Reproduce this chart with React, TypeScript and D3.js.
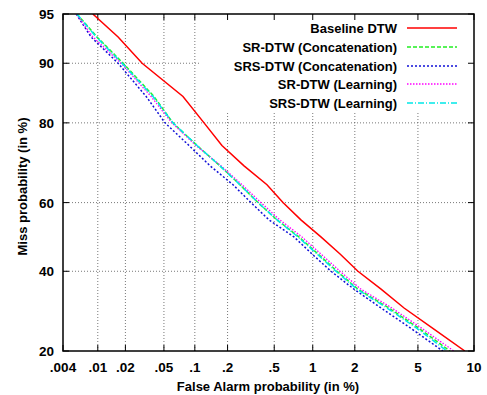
import React from "react";
import * as d3 from "d3";

// Miss probability (%) sample levels shared by all curves
const missPct = [95, 93, 90, 85, 80, 75, 70, 65, 60, 55, 50, 45, 40, 35, 30, 25, 20];

// False alarm probability (%) for each curve at the miss levels above
const baselineFA = [0.0088, 0.0167, 0.030, 0.077, 0.122, 0.178, 0.279, 0.436, 0.588, 0.813, 1.15, 1.58, 2.10, 2.98, 4.14, 6.08, 9.0];
const srConcatFA = [0.0058, 0.0098, 0.0189, 0.0397, 0.0615, 0.105, 0.171, 0.257, 0.367, 0.527, 0.785, 1.095, 1.504, 2.10, 3.34, 5.07, 7.53];
const srsConcatFA = [0.0057, 0.0084, 0.0167, 0.033, 0.0513, 0.088, 0.139, 0.2235, 0.32, 0.453, 0.718, 0.987, 1.362, 1.974, 2.98, 4.55, 6.9];
const srLearnFA = [0.0057, 0.0088, 0.018, 0.037, 0.060, 0.1025, 0.1745, 0.268, 0.388, 0.556, 0.829, 1.15, 1.578, 2.20, 3.49, 5.27, 7.9];
const srsLearnFA = [0.0058, 0.0096, 0.0184, 0.0388, 0.0615, 0.105, 0.171, 0.257, 0.367, 0.527, 0.772, 1.075, 1.478, 2.067, 3.25, 4.94, 7.26];

const seriesNames = [
  "Baseline DTW",
  "SR-DTW (Concatenation)",
  "SRS-DTW (Concatenation)",
  "SR-DTW (Learning)",
  "SRS-DTW (Learning)",
];
const seriesFA = [baselineFA, srConcatFA, srsConcatFA, srLearnFA, srsLearnFA];

const xTicks = [0.004, 0.01, 0.02, 0.05, 0.1, 0.2, 0.5, 1, 2, 5, 10];
const xTickLabels = [".004", ".01", ".02", ".05", ".1", ".2", ".5", "1", "2", "5", "10"];
const yTicks = [20, 40, 60, 80, 90, 95];

const styles = [
  { color: "#ff0000", dash: "", width: 1.5 },
  { color: "#22ee22", dash: "4,2", width: 1.5 },
  { color: "#1010d8", dash: "2,2", width: 1.5 },
  { color: "#ff00ff", dash: "1.5,1.5", width: 1.3 },
  { color: "#00e8e8", dash: "6,2,1,2", width: 1.5 },
];

// inverse normal CDF (Acklam)
function probit(p: number): number {
  const a = [-3.969683028665376e1, 2.209460984245205e2, -2.759285104469687e2, 1.38357751867269e2, -3.066479806614716e1, 2.506628277459239];
  const b = [-5.447609879822406e1, 1.615858368580409e2, -1.556989798598866e2, 6.680131188771972e1, -1.328068155288572e1];
  const c = [-7.784894002430293e-3, -3.223964580411365e-1, -2.400758277161838, -2.549732539343734, 4.374664141464968, 2.938163982698783];
  const d = [7.784695709041462e-3, 3.224671290700398e-1, 2.445134137142996, 3.754408661907416];
  const pl = 0.02425;
  if (p < pl) {
    const q = Math.sqrt(-2 * Math.log(p));
    return (((((c[0] * q + c[1]) * q + c[2]) * q + c[3]) * q + c[4]) * q + c[5]) / ((((d[0] * q + d[1]) * q + d[2]) * q + d[3]) * q + 1);
  } else if (p <= 1 - pl) {
    const q = p - 0.5;
    const r = q * q;
    return ((((((a[0] * r + a[1]) * r + a[2]) * r + a[3]) * r + a[4]) * r + a[5]) * q) / (((((b[0] * r + b[1]) * r + b[2]) * r + b[3]) * r + b[4]) * r + 1);
  } else {
    const q = Math.sqrt(-2 * Math.log(1 - p));
    return -(((((c[0] * q + c[1]) * q + c[2]) * q + c[3]) * q + c[4]) * q + c[5]) / ((((d[0] * q + d[1]) * q + d[2]) * q + d[3]) * q + 1);
  }
}

const W = 487;
const H = 395;
const L = 63, R = 474, T = 14, B = 351;

export default function App() {
  const x = d3.scaleLinear().domain([probit(0.004 / 100), probit(10 / 100)]).range([L, R]);
  const y = d3.scaleLinear().domain([probit(0.20), probit(0.95)]).range([B, T]);
  const px = (v: number) => x(probit(v / 100));
  const py = (v: number) => y(probit(v / 100));

  const line = d3
    .line<[number, number]>()
    .x((d) => px(d[0]))
    .y((d) => py(d[1]));

  const font = "'Liberation Sans', Arial, Helvetica, sans-serif";
  const legendRows = [28, 47, 66, 84, 103];

  return (
    <svg width={W} height={H} style={{ position: "absolute", left: 0, top: 0 }} fontFamily={font}>
      <rect x={0} y={0} width={W} height={H} fill="#fff" />
      <defs>
        <clipPath id="plot">
          <rect x={L} y={T} width={R - L} height={B - T} />
        </clipPath>
      </defs>
      {/* grid */}
      {xTicks.slice(1, -1).map((t, i) => (
        <line key={"gx" + i} x1={px(t)} x2={px(t)} y1={T} y2={B} stroke="#555" strokeWidth={0.8} strokeDasharray="1,2" />
      ))}
      {yTicks.slice(1, -1).map((t, i) => (
        <line key={"gy" + i} x1={L} x2={R} y1={py(t)} y2={py(t)} stroke="#555" strokeWidth={0.8} strokeDasharray="1,2" />
      ))}
      {/* legend background hides grid */}
      <rect x={201} y={15} width={272} height={97} fill="#fff" />
      {/* ticks */}
      {xTicks.map((t, i) => (
        <g key={"tx" + i}>
          <line x1={px(t)} x2={px(t)} y1={B} y2={B - 6} stroke="#000" strokeWidth={1} />
          <line x1={px(t)} x2={px(t)} y1={T} y2={T + 6} stroke="#000" strokeWidth={1} />
          <text x={px(t)} y={372} textAnchor="middle" fontSize={13.5} fontWeight="bold">
            {xTickLabels[i]}
          </text>
        </g>
      ))}
      {yTicks.map((t, i) => (
        <g key={"ty" + i}>
          <line x1={L} x2={L + 6} y1={py(t)} y2={py(t)} stroke="#000" strokeWidth={1} />
          <line x1={R} x2={R - 6} y1={py(t)} y2={py(t)} stroke="#000" strokeWidth={1} />
          <text x={54} y={py(t) + 5} textAnchor="end" fontSize={13.5} fontWeight="bold">
            {t}
          </text>
        </g>
      ))}
      {/* curves */}
      <g clipPath="url(#plot)">
        {seriesFA.map((fa, i) => (
          <path
            key={"s" + i}
            d={line(fa.map((v, j) => [v, missPct[j]] as [number, number])) || ""}
            fill="none"
            stroke={styles[i].color}
            strokeWidth={styles[i].width}
            strokeDasharray={styles[i].dash}
          />
        ))}
      </g>
      {/* legend */}
      {seriesNames.map((n, i) => (
        <g key={"lg" + i}>
          <text x={397} y={legendRows[i] + 5} textAnchor="end" fontSize={13} fontWeight="bold">
            {n}
          </text>
          <line
            x1={407}
            x2={457}
            y1={legendRows[i]}
            y2={legendRows[i]}
            stroke={styles[i].color}
            strokeWidth={styles[i].width}
            strokeDasharray={styles[i].dash}
          />
        </g>
      ))}
      {/* frame */}
      <rect x={L} y={T} width={R - L} height={B - T} fill="none" stroke="#000" strokeWidth={1.5} />
      {/* axis titles */}
      <text x={268} y={391} textAnchor="middle" fontSize={13} fontWeight="bold">
        False Alarm probability (in %)
      </text>
      <text transform={`translate(27, ${(T + B) / 2 + 4}) rotate(-90)`} textAnchor="middle" fontSize={13} fontWeight="bold">
        Miss probability (in %)
      </text>
    </svg>
  );
}
